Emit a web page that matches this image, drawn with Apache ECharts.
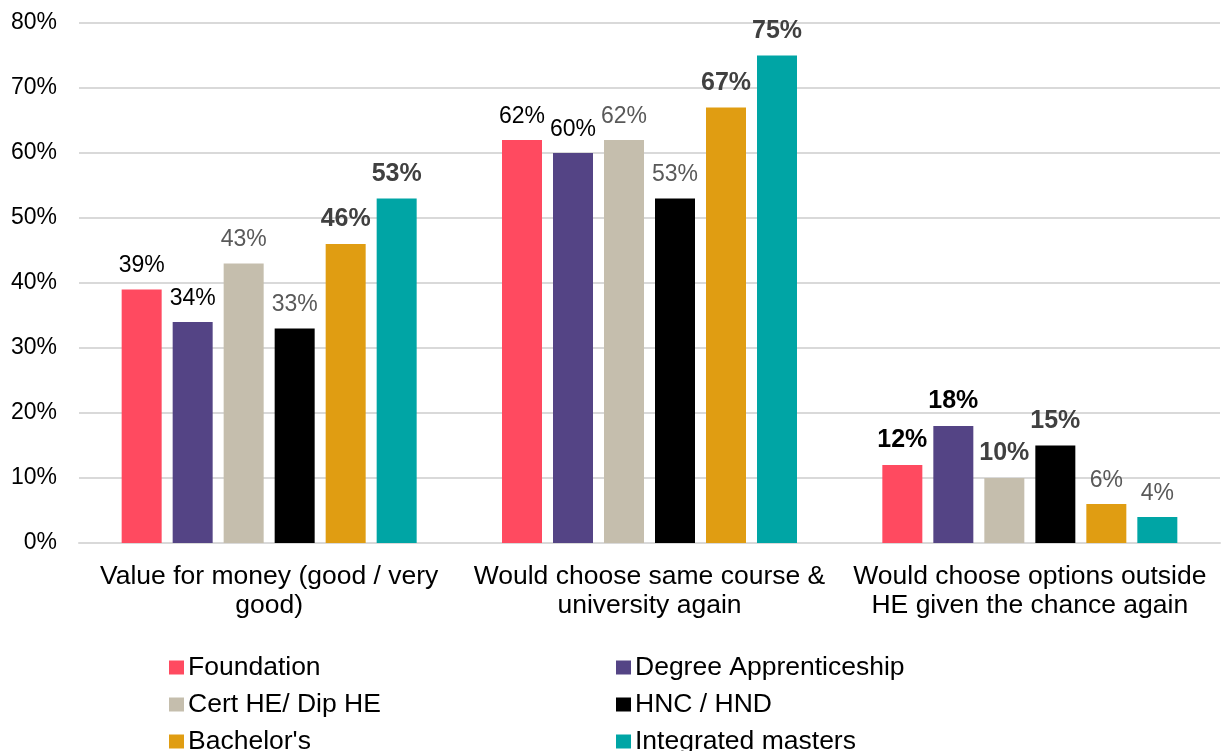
<!DOCTYPE html>
<html>
<head>
<meta charset="utf-8">
<script src="https://cdn.jsdelivr.net/npm/echarts@6/dist/echarts.min.js"></script>
<style>
  html, body { margin: 0; padding: 0; background: #fff; }
  #chart { width: 1222px; height: 751px; }
</style>
</head>
<body>
<div id="chart"></div>
<script>
// Survey measures (x-axis groups)
const categories = [
  'Value for money (good / very\ngood)',
  'Would choose same course &\nuniversity again',
  'Would choose options outside\nHE given the chance again'
];

// Qualification types and their percentages per measure
const seriesNames = ['Foundation', 'Degree Apprenticeship', 'Cert HE/ Dip HE', 'HNC / HND', "Bachelor's", 'Integrated masters'];
const foundation = [39, 62, 12];
const degreeApprenticeship = [34, 60, 18];
const certDipHE = [43, 62, 10];
const hncHnd = [33, 53, 15];
const bachelors = [46, 67, 6];
const integratedMasters = [53, 75, 4];

const yTicks = [0, 10, 20, 30, 40, 50, 60, 70, 80];

// Presentation
const colors = ['#FF4A60', '#544485', '#C5BEAD', '#000000', '#E09D12', '#00A5A5'];
// label style per series and measure: 'n' plain black, 'g' plain grey, 'B' bold black, 'G' bold grey
const labelStyles = [
  ['n', 'n', 'B'],
  ['n', 'n', 'B'],
  ['g', 'g', 'G'],
  ['g', 'g', 'G'],
  ['G', 'G', 'g'],
  ['G', 'G', 'g']
];
const styleMap = {
  n: { color: '#000000', fontWeight: 'normal', fontSize: 23 },
  g: { color: '#595959', fontWeight: 'normal', fontSize: 23 },
  B: { color: '#000000', fontWeight: 'bold', fontSize: 25 },
  G: { color: '#404040', fontWeight: 'bold', fontSize: 25 }
};
// legend placement: [left, top] for each series entry (two columns, three rows)
const legendSlots = [[169, 654], [616, 654], [169, 691], [616, 691], [169, 728], [616, 728]];

const values = [foundation, degreeApprenticeship, certDipHE, hncHnd, bachelors, integratedMasters];
const FONT = '"Liberation Sans", Arial, sans-serif';

const series = seriesNames.map((name, i) => ({
  name,
  type: 'bar',
  barWidth: 40,
  barGap: '27.5%',
  itemStyle: { color: colors[i] },
  data: values[i].map((v, j) => ({
    value: v,
    label: Object.assign({}, styleMap[labelStyles[i][j]])
  })),
  label: {
    show: true,
    position: 'top',
    distance: 12,
    fontFamily: FONT,
    formatter: p => p.value + '%'
  }
}));

const legends = seriesNames.map((name, i) => ({
  data: [name],
  left: legendSlots[i][0],
  top: legendSlots[i][1],
  padding: 0,
  icon: 'rect',
  itemWidth: 15,
  itemHeight: 14,
  selectedMode: false,
  textStyle: { fontFamily: FONT, fontSize: 26.5, color: '#000', padding: [0, 0, 0, -1] }
}));

const chart = echarts.init(document.getElementById('chart'));
chart.setOption({
  animation: false,
  color: colors,
  grid: { left: 79, right: 2, top: 23, bottom: 208 },
  legend: legends,
  xAxis: {
    type: 'category',
    data: categories,
    axisTick: { show: false },
    axisLine: { lineStyle: { color: '#D9D9D9', width: 2 } },
    axisLabel: {
      interval: 0,
      fontFamily: FONT,
      fontSize: 26.5,
      color: '#000',
      lineHeight: 29,
      margin: 19
    }
  },
  yAxis: {
    type: 'value',
    min: yTicks[0],
    max: yTicks[yTicks.length - 1],
    interval: 10,
    axisLine: { show: false },
    axisTick: { show: false },
    splitLine: { lineStyle: { color: '#D9D9D9', width: 2 } },
    axisLabel: {
      fontFamily: FONT,
      fontSize: 23,
      color: '#000',
      margin: 22,
      formatter: v => v + '%'
    }
  },
  series
});
</script>
</body>
</html>
